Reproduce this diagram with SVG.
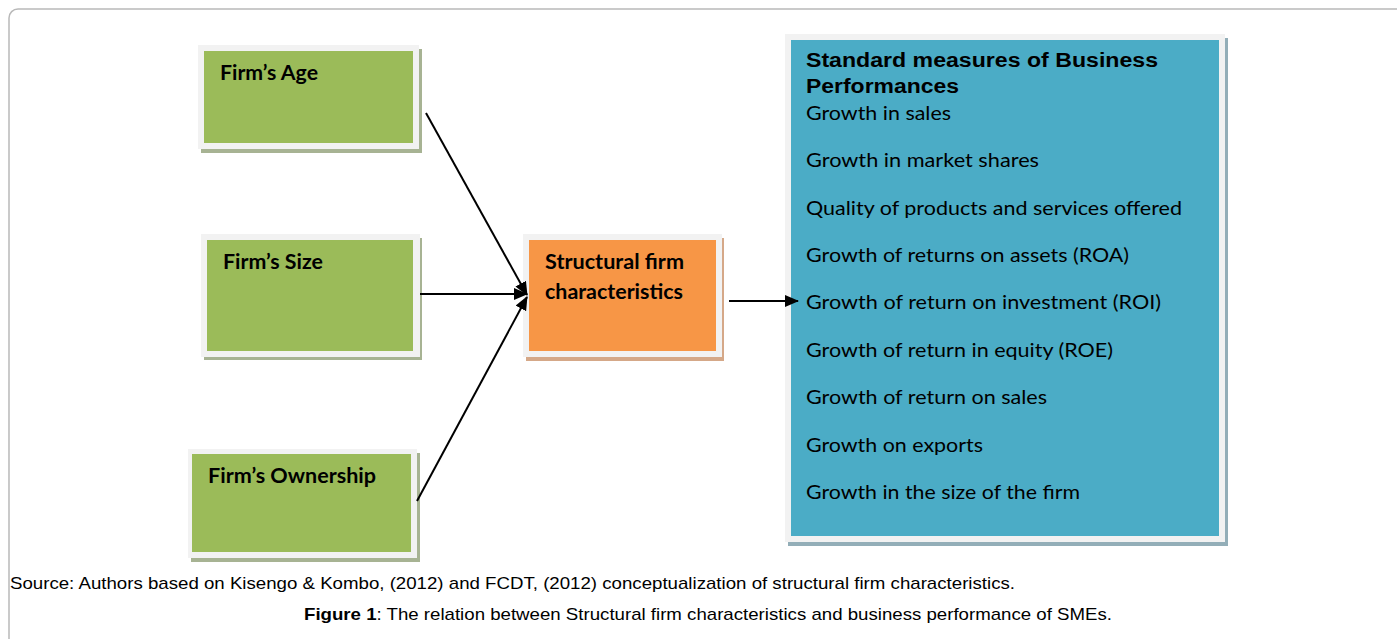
<svg xmlns="http://www.w3.org/2000/svg" width="1397" height="639" viewBox="0 0 1397 639">
  <style>
    .frame { fill: #ffffff; stroke: #b9b9b9; stroke-width: 1.5; }
    .mat { fill: #f2f2f2; }
    .green { fill: #9bbb59; }
    .orange { fill: #f79646; }
    .blue { fill: #4bacc6; }
    .sh-green { fill: #a7b393; }
    .sh-orange { fill: #d5a888; }
    .sh-blue { fill: #93aeb8; }
    .lbl { font-family: Lato, "Open Sans", sans-serif; font-weight: bold; font-size: 20px; fill: #000; }
    .item { font-family: Lato, "Open Sans", sans-serif; font-size: 20px; fill: #000; }
    .head { font-family: "Liberation Sans", Arial, sans-serif; font-weight: bold; font-size: 20px; fill: #000; }
    .cap { font-family: "Liberation Sans", Arial, sans-serif; font-size: 17px; fill: #000; }
    .conn { stroke: #000; stroke-width: 2; fill: none; }
  </style>
  <defs>
    <marker id="arrow" viewBox="0 0 14 12" refX="13" refY="6" markerWidth="14" markerHeight="12" markerUnits="userSpaceOnUse" orient="auto">
      <path d="M0,0 L14,6 L0,12 Z" fill="#000"/>
    </marker>
  </defs>

  <!-- page frame -->
  <rect class="frame" x="9" y="9" width="1400" height="650" rx="9" ry="9"/>

  <g id="firm-age">
    <rect class="sh-green" x="201" y="49" width="221" height="104"/>
    <rect class="mat" x="198" y="45" width="221" height="104"/>
    <rect class="green" x="204" y="51" width="209" height="92"/>
    <text class="lbl" x="220" y="80" textLength="98" lengthAdjust="spacingAndGlyphs">Firm’s Age</text>
  </g>

  <g id="firm-size">
    <rect class="sh-green" x="204" y="238" width="218" height="122"/>
    <rect class="mat" x="201" y="234" width="219" height="123"/>
    <rect class="green" x="207" y="240" width="206" height="111"/>
    <text class="lbl" x="223" y="269" textLength="100" lengthAdjust="spacingAndGlyphs">Firm’s Size</text>
  </g>

  <g id="firm-ownership">
    <rect class="sh-green" x="191" y="453" width="229" height="109"/>
    <rect class="mat" x="188" y="449" width="229" height="109"/>
    <rect class="green" x="192" y="454" width="219" height="98"/>
    <text class="lbl" x="208" y="483" textLength="168" lengthAdjust="spacingAndGlyphs">Firm’s Ownership</text>
  </g>

  <g id="structural">
    <rect class="sh-orange" x="526" y="238" width="198" height="123"/>
    <rect class="mat" x="523" y="234" width="199" height="123"/>
    <rect class="orange" x="529" y="240" width="187" height="111"/>
    <text class="lbl" x="545" y="269" textLength="139" lengthAdjust="spacingAndGlyphs">Structural firm</text>
    <text class="lbl" x="545" y="299" textLength="138" lengthAdjust="spacingAndGlyphs">characteristics</text>
  </g>

  <g id="performance">
    <rect class="sh-blue" x="788" y="38" width="440" height="508"/>
    <rect class="mat" x="785" y="34" width="440" height="508"/>
    <rect class="blue" x="791" y="40" width="428" height="496"/>
    <text class="head" x="806" y="67" textLength="352" lengthAdjust="spacingAndGlyphs">Standard measures of Business</text>
    <text class="head" x="806" y="93" textLength="153" lengthAdjust="spacingAndGlyphs">Performances</text>
    <text class="item" x="806" y="120" textLength="145" lengthAdjust="spacingAndGlyphs">Growth in sales</text>
    <text class="item" x="806" y="167" textLength="233" lengthAdjust="spacingAndGlyphs">Growth in market shares</text>
    <text class="item" x="806" y="215" textLength="376" lengthAdjust="spacingAndGlyphs">Quality of products and services offered</text>
    <text class="item" x="806" y="262" textLength="323" lengthAdjust="spacingAndGlyphs">Growth of returns on assets (ROA)</text>
    <text class="item" x="806" y="309" textLength="355" lengthAdjust="spacingAndGlyphs">Growth of return on investment (ROI)</text>
    <text class="item" x="806" y="357" textLength="307" lengthAdjust="spacingAndGlyphs">Growth of return in equity (ROE)</text>
    <text class="item" x="806" y="404" textLength="241" lengthAdjust="spacingAndGlyphs">Growth of return on sales</text>
    <text class="item" x="806" y="452" textLength="177" lengthAdjust="spacingAndGlyphs">Growth on exports</text>
    <text class="item" x="806" y="499" textLength="274" lengthAdjust="spacingAndGlyphs">Growth in the size of the firm</text>
  </g>

  <g id="connectors">
    <line class="conn" x1="426" y1="113" x2="527" y2="295" marker-end="url(#arrow)"/>
    <line class="conn" x1="420" y1="294" x2="527" y2="294" marker-end="url(#arrow)"/>
    <line class="conn" x1="417" y1="501" x2="527" y2="297" marker-end="url(#arrow)"/>
    <line class="conn" x1="729" y1="301" x2="798" y2="301" marker-end="url(#arrow)"/>
  </g>

  <g id="captions">
    <text class="cap" x="10" y="589" textLength="1005" lengthAdjust="spacingAndGlyphs">Source: Authors based on Kisengo &amp; Kombo, (2012) and FCDT, (2012) conceptualization of structural firm characteristics.</text>
    <text class="cap" x="304" y="620" textLength="808" lengthAdjust="spacingAndGlyphs"><tspan font-weight="bold">Figure 1</tspan>: The relation between Structural firm characteristics and business performance of SMEs.</text>
  </g>
</svg>
